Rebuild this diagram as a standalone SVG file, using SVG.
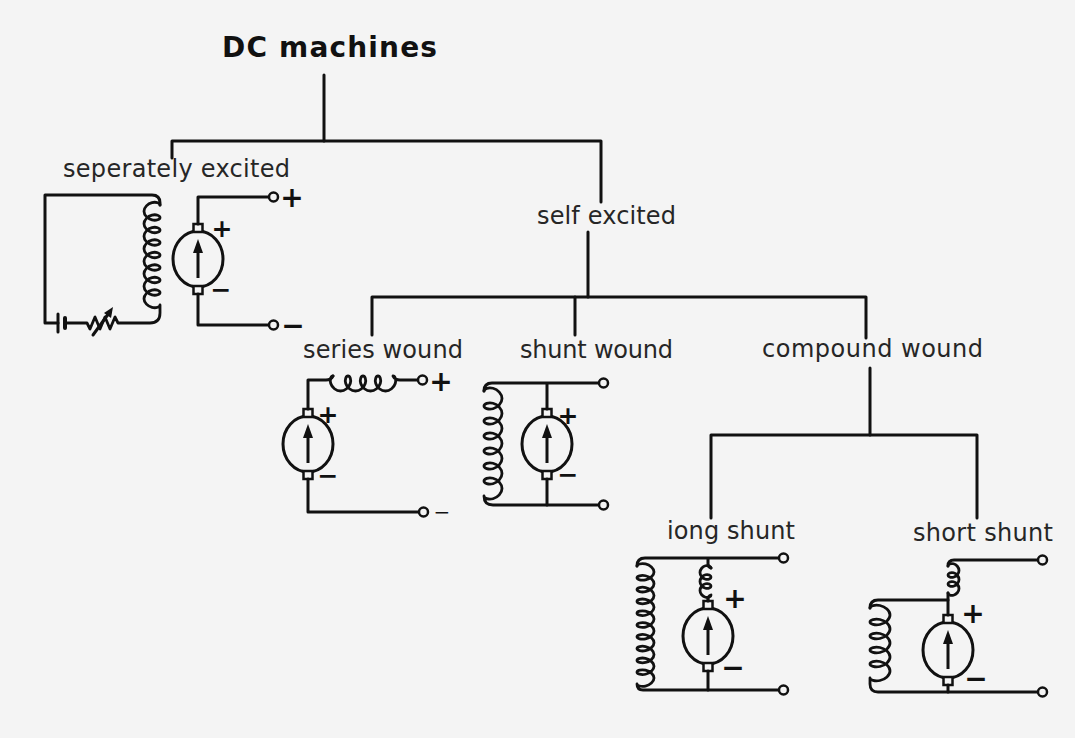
<svg xmlns="http://www.w3.org/2000/svg" xmlns:xlink="http://www.w3.org/1999/xlink" width="1075" height="738" viewBox="0 0 1075 738">
<style>
.w{fill:none;stroke:#111;stroke-width:3;stroke-linejoin:round;stroke-linecap:round}
.c{fill:none;stroke:#111;stroke-width:2.8;stroke-linejoin:round;stroke-linecap:round}
.t{font-family:"DejaVu Sans","Liberation Sans",sans-serif;font-size:24px;fill:#262626}
.h{font-family:"DejaVu Sans","Liberation Sans",sans-serif;font-size:28px;font-weight:bold;fill:#111}
.sg{font-family:"DejaVu Sans","Liberation Sans",sans-serif;font-size:28px;font-weight:bold;fill:#111;text-anchor:middle}
.sm{font-size:25px}
.term{fill:#f4f4f4;stroke:#111;stroke-width:2.5}
</style>
<defs>
<g id="gen">
<ellipse cx="0" cy="0" rx="25" ry="28" fill="#f4f4f4" stroke="#111" stroke-width="3"/>
<rect x="-4.5" y="-35" width="9" height="8" fill="#f4f4f4" stroke="#111" stroke-width="2.5"/>
<rect x="-4.5" y="27" width="9" height="8" fill="#f4f4f4" stroke="#111" stroke-width="2.5"/>
<line x1="0" y1="19" x2="0" y2="-8" stroke="#111" stroke-width="3"/>
<polygon points="0,-20 -5,-6 5,-6" fill="#111"/>
</g>
</defs>
<rect x="0" y="0" width="1075" height="738" fill="#f4f4f4"/>

<g id="connectors" class="w">
<path d="M324,75 V141"/>
<path d="M172,158 V141 H601 V202"/>
<path d="M588,232 V297"/>
<path d="M372,335 V297 H866 V338"/>
<path d="M575,297 V335"/>
<path d="M870,368 V435"/>
<path d="M711,518 V435 H977 V518"/>
</g>

<g id="dc-machines">
<text class="h" x="222" y="57" textLength="215" lengthAdjust="spacing">DC machines</text>
</g>

<g id="self-excited">
<text class="t" x="537" y="224" textLength="139" lengthAdjust="spacing">self excited</text>
</g>

<g id="compound-wound">
<text class="t" x="762" y="357" textLength="221" lengthAdjust="spacing">compound wound</text>
</g>

<g id="separately-excited">
<text class="t" x="63" y="177" textLength="227" lengthAdjust="spacing">seperately excited</text>
<path class="w" d="M58,323 H45 V195 H152 q8,0 8,8 V205"/>
<path class="c" d="M160,205 c0,-1.84 -3.81,-3.42 -8,-2.38 c-4.19,1.04 -8,4.7 -8,8.63 c0,3.92 3.81,7.59 8,8.63 c4.19,1.04 8,-0.54 8,-2.38 c0,-1.84 -3.81,-3.42 -8,-2.38 c-4.19,1.04 -8,4.7 -8,8.63 c0,3.92 3.81,7.59 8,8.63 c4.19,1.04 8,-0.54 8,-2.38 c0,-1.84 -3.81,-3.42 -8,-2.38 c-4.19,1.04 -8,4.7 -8,8.63 c0,3.92 3.81,7.59 8,8.63 c4.19,1.04 8,-0.54 8,-2.38 c0,-1.84 -3.81,-3.42 -8,-2.38 c-4.19,1.04 -8,4.7 -8,8.63 c0,3.92 3.81,7.59 8,8.63 c4.19,1.04 8,-0.54 8,-2.38 c0,-1.84 -3.81,-3.42 -8,-2.38 c-4.19,1.04 -8,4.7 -8,8.63 c0,3.92 3.81,7.59 8,8.63 c4.19,1.04 8,-0.54 8,-2.38 c0,-1.84 -3.81,-3.42 -8,-2.38 c-4.19,1.04 -8,4.7 -8,8.63 c0,3.92 3.81,7.59 8,8.63 c4.19,1.04 8,-0.54 8,-2.38 c0,-1.84 -3.81,-3.42 -8,-2.38 c-4.19,1.04 -8,4.7 -8,8.63 c0,3.92 3.81,7.59 8,8.63 c4.19,1.04 8,-0.54 8,-2.38 c0,-1.84 -3.81,-3.42 -8,-2.38 c-4.19,1.04 -8,4.7 -8,8.63 c0,3.92 3.81,7.59 8,8.63 c4.19,1.04 8,-0.54 8,-2.38 V313 q0,10 -10,10 H118 l-3,-6 l-5,12 l-5,-12 l-5,12 l-5,-12 l-5,12 l-3,-6 H66"/>
<path class="w" d="M58,314 V332"/>
<path class="w" d="M65,318 V328" style="stroke-width:4"/>
<path class="w" d="M93,335 L109,313"/>
<polygon points="113,307 104,313 111,318" fill="#111"/>
<use xlink:href="#gen" href="#gen" transform="translate(198,259)"/>
<path class="w" d="M198,224 V197 H269 M198,294 V325 H269"/>
<circle class="term" cx="273.5" cy="197" r="4.5"/>
<circle class="term" cx="273.5" cy="325" r="4.5"/>
<text class="sg" x="292" y="207">+</text>
<text class="sg" x="293" y="335">−</text>
<text class="sg sm" x="222" y="237">+</text>
<text class="sg sm" x="221" y="298">−</text>
</g>

<g id="series-wound">
<text class="t" x="303" y="358" textLength="160" lengthAdjust="spacing">series wound</text>
<use xlink:href="#gen" href="#gen" transform="translate(308,444)"/>
<path class="w" d="M308,409 V380 H326 q5,0 7,-4 M308,479 V512 H419"/>
<path class="c" d="M333,376 c-1.89,0 -3.5,3.57 -2.25,7.5 c1.25,3.93 5.36,7.5 9.75,7.5 c4.39,0 8.5,-3.57 9.75,-7.5 c1.25,-3.93 -0.36,-7.5 -2.25,-7.5 c-1.89,0 -3.5,3.57 -2.25,7.5 c1.25,3.93 5.36,7.5 9.75,7.5 c4.39,0 8.5,-3.57 9.75,-7.5 c1.25,-3.93 -0.36,-7.5 -2.25,-7.5 c-1.89,0 -3.5,3.57 -2.25,7.5 c1.25,3.93 5.36,7.5 9.75,7.5 c4.39,0 8.5,-3.57 9.75,-7.5 c1.25,-3.93 -0.36,-7.5 -2.25,-7.5 c-1.89,0 -3.5,3.57 -2.25,7.5 c1.25,3.93 5.36,7.5 9.75,7.5 c4.39,0 8.5,-3.57 9.75,-7.5 c1.25,-3.93 -0.36,-7.5 -2.25,-7.5 q2,4 7,4 H418"/>
<circle class="term" cx="422.5" cy="380" r="4.5"/>
<circle class="term" cx="423.5" cy="512" r="4.5"/>
<text class="sg" x="441" y="391">+</text>
<text class="sg" x="442" y="519" style="font-size:20px;font-weight:normal">−</text>
<text class="sg sm" x="328" y="423">+</text>
<text class="sg sm" x="328" y="484">−</text>
</g>

<g id="shunt-wound">
<text class="t" x="520" y="358" textLength="153" lengthAdjust="spacing">shunt wound</text>
<use xlink:href="#gen" href="#gen" transform="translate(547,444)"/>
<path class="w" d="M599,383 H492 q-8,0 -8,8 M547,383 V409 M547,479 V505"/>
<path class="c" d="M484,391 c0,-2.15 4.29,-4 9,-2.75 c4.71,1.25 9,5.6 9,10.25 c0,4.65 -4.29,9 -9,10.25 c-4.71,1.25 -9,-0.6 -9,-2.75 c0,-2.15 4.29,-4 9,-2.75 c4.71,1.25 9,5.6 9,10.25 c0,4.65 -4.29,9 -9,10.25 c-4.71,1.25 -9,-0.6 -9,-2.75 c0,-2.15 4.29,-4 9,-2.75 c4.71,1.25 9,5.6 9,10.25 c0,4.65 -4.29,9 -9,10.25 c-4.71,1.25 -9,-0.6 -9,-2.75 c0,-2.15 4.29,-4 9,-2.75 c4.71,1.25 9,5.6 9,10.25 c0,4.65 -4.29,9 -9,10.25 c-4.71,1.25 -9,-0.6 -9,-2.75 c0,-2.15 4.29,-4 9,-2.75 c4.71,1.25 9,5.6 9,10.25 c0,4.65 -4.29,9 -9,10.25 c-4.71,1.25 -9,-0.6 -9,-2.75 c0,-2.15 4.29,-4 9,-2.75 c4.71,1.25 9,5.6 9,10.25 c0,4.65 -4.29,9 -9,10.25 c-4.71,1.25 -9,-0.6 -9,-2.75 c0,-2.15 4.29,-4 9,-2.75 c4.71,1.25 9,5.6 9,10.25 c0,4.65 -4.29,9 -9,10.25 c-4.71,1.25 -9,-0.6 -9,-2.75 q0,9 9,9 H599"/>
<circle class="term" cx="603.5" cy="383" r="4.5"/>
<circle class="term" cx="603.5" cy="505" r="4.5"/>
<text class="sg sm" x="568" y="424">+</text>
<text class="sg sm" x="568" y="483">−</text>
</g>

<g id="long-shunt">
<text class="t" x="667" y="539" textLength="128" lengthAdjust="spacing">iong shunt</text>
<use xlink:href="#gen" href="#gen" transform="translate(708,636)"/>
<path class="w" d="M779,558 H645 q-8,0 -8,8 M708,558 V564 q0,3 3,4 M708,599 V601 M708,671 V690"/>
<path class="c" d="M637,566 c0,-1.63 4.05,-3.03 8.5,-2.05 c4.45,0.98 8.5,4.35 8.5,7.95 c0,3.6 -4.05,6.97 -8.5,7.95 c-4.45,0.98 -8.5,-0.42 -8.5,-2.05 c0,-1.63 4.05,-3.03 8.5,-2.05 c4.45,0.98 8.5,4.35 8.5,7.95 c0,3.6 -4.05,6.97 -8.5,7.95 c-4.45,0.98 -8.5,-0.42 -8.5,-2.05 c0,-1.63 4.05,-3.03 8.5,-2.05 c4.45,0.98 8.5,4.35 8.5,7.95 c0,3.6 -4.05,6.97 -8.5,7.95 c-4.45,0.98 -8.5,-0.42 -8.5,-2.05 c0,-1.63 4.05,-3.03 8.5,-2.05 c4.45,0.98 8.5,4.35 8.5,7.95 c0,3.6 -4.05,6.97 -8.5,7.95 c-4.45,0.98 -8.5,-0.42 -8.5,-2.05 c0,-1.63 4.05,-3.03 8.5,-2.05 c4.45,0.98 8.5,4.35 8.5,7.95 c0,3.6 -4.05,6.97 -8.5,7.95 c-4.45,0.98 -8.5,-0.42 -8.5,-2.05 c0,-1.63 4.05,-3.03 8.5,-2.05 c4.45,0.98 8.5,4.35 8.5,7.95 c0,3.6 -4.05,6.97 -8.5,7.95 c-4.45,0.98 -8.5,-0.42 -8.5,-2.05 c0,-1.63 4.05,-3.03 8.5,-2.05 c4.45,0.98 8.5,4.35 8.5,7.95 c0,3.6 -4.05,6.97 -8.5,7.95 c-4.45,0.98 -8.5,-0.42 -8.5,-2.05 c0,-1.63 4.05,-3.03 8.5,-2.05 c4.45,0.98 8.5,4.35 8.5,7.95 c0,3.6 -4.05,6.97 -8.5,7.95 c-4.45,0.98 -8.5,-0.42 -8.5,-2.05 c0,-1.63 4.05,-3.03 8.5,-2.05 c4.45,0.98 8.5,4.35 8.5,7.95 c0,3.6 -4.05,6.97 -8.5,7.95 c-4.45,0.98 -8.5,-0.42 -8.5,-2.05 c0,-1.63 4.05,-3.03 8.5,-2.05 c4.45,0.98 8.5,4.35 8.5,7.95 c0,3.6 -4.05,6.97 -8.5,7.95 c-4.45,0.98 -8.5,-0.42 -8.5,-2.05 q0,6 6,6 H779"/>
<path class="c" d="M711,568 c0,-1.61 -2.62,-3 -5.5,-2.25 c-2.88,0.75 -5.5,3.65 -5.5,6.75 c0,3.1 2.62,6 5.5,6.75 c2.88,0.75 5.5,-0.64 5.5,-2.25 c0,-1.61 -2.62,-3 -5.5,-2.25 c-2.88,0.75 -5.5,3.65 -5.5,6.75 c0,3.1 2.62,6 5.5,6.75 c2.88,0.75 5.5,-0.64 5.5,-2.25 c0,-1.61 -2.62,-3 -5.5,-2.25 c-2.88,0.75 -5.5,3.65 -5.5,6.75 c0,3.1 2.62,6 5.5,6.75 c2.88,0.75 5.5,-0.64 5.5,-2.25 q-3,1 -3,4"/>
<circle class="term" cx="783.5" cy="558" r="4.5"/>
<circle class="term" cx="783.5" cy="690" r="4.5"/>
<text class="sg" x="735" y="608">+</text>
<text class="sg" x="733" y="677">−</text>
</g>

<g id="short-shunt">
<text class="t" x="913" y="541" textLength="140" lengthAdjust="spacing">short shunt</text>
<use xlink:href="#gen" href="#gen" transform="translate(948,650)"/>
<path class="w" d="M1038,560 H954 q-6,0 -6,6 M948,593 V615 M948,685 V692"/>
<path class="c" d="M948,566 c0,-1.61 2.62,-3 5.5,-2.25 c2.88,0.75 5.5,3.65 5.5,6.75 c0,3.1 -2.62,6 -5.5,6.75 c-2.88,0.75 -5.5,-0.64 -5.5,-2.25 c0,-1.61 2.62,-3 5.5,-2.25 c2.88,0.75 5.5,3.65 5.5,6.75 c0,3.1 -2.62,6 -5.5,6.75 c-2.88,0.75 -5.5,-0.64 -5.5,-2.25 c0,-1.61 2.62,-3 5.5,-2.25 c2.88,0.75 5.5,3.65 5.5,6.75 c0,3.1 -2.62,6 -5.5,6.75 c-2.88,0.75 -5.5,-0.64 -5.5,-2.25"/>
<path class="w" d="M948,600 H878 q-8,0 -8,8"/>
<path class="c" d="M870,608 c0,-1.97 4.76,-3.67 10,-2.5 c5.24,1.17 10,5.19 10,9.5 c0,4.31 -4.76,8.33 -10,9.5 c-5.24,1.17 -10,-0.53 -10,-2.5 c0,-1.97 4.76,-3.67 10,-2.5 c5.24,1.17 10,5.19 10,9.5 c0,4.31 -4.76,8.33 -10,9.5 c-5.24,1.17 -10,-0.53 -10,-2.5 c0,-1.97 4.76,-3.67 10,-2.5 c5.24,1.17 10,5.19 10,9.5 c0,4.31 -4.76,8.33 -10,9.5 c-5.24,1.17 -10,-0.53 -10,-2.5 c0,-1.97 4.76,-3.67 10,-2.5 c5.24,1.17 10,5.19 10,9.5 c0,4.31 -4.76,8.33 -10,9.5 c-5.24,1.17 -10,-0.53 -10,-2.5 c0,-1.97 4.76,-3.67 10,-2.5 c5.24,1.17 10,5.19 10,9.5 c0,4.31 -4.76,8.33 -10,9.5 c-5.24,1.17 -10,-0.53 -10,-2.5 v6 q0,8 8,8 H1038"/>
<circle class="term" cx="1042.5" cy="560" r="4.5"/>
<circle class="term" cx="1042.5" cy="692" r="4.5"/>
<text class="sg" x="973" y="623">+</text>
<text class="sg" x="976" y="688">−</text>
</g>
</svg>
